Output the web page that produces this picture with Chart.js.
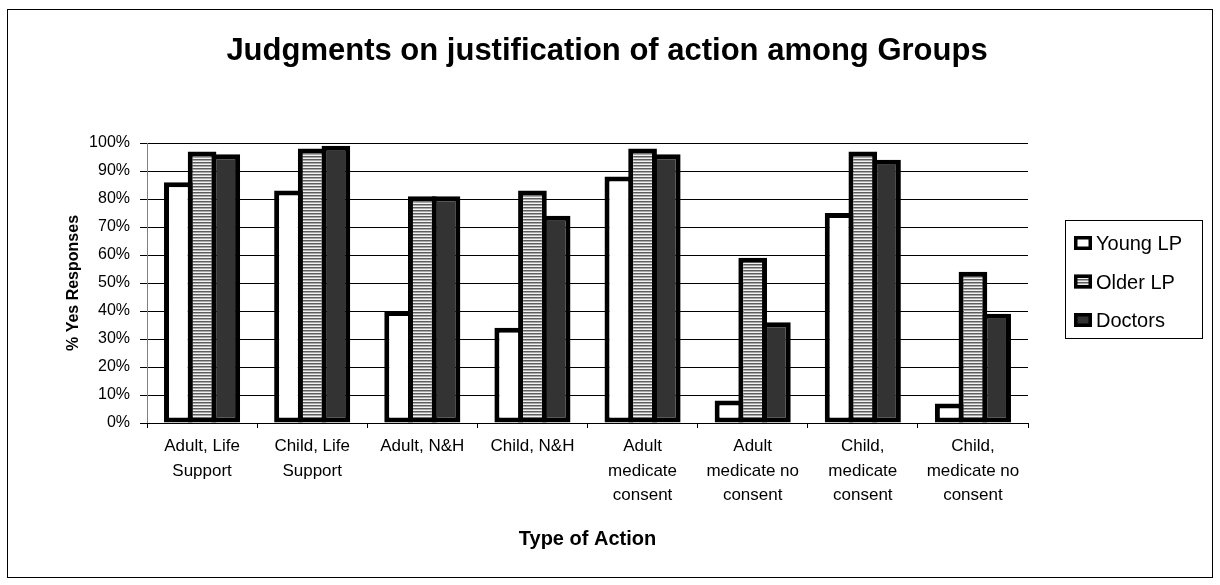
<!DOCTYPE html>
<html>
<head>
<meta charset="utf-8">
<script src="https://cdn.jsdelivr.net/npm/chart.js@4.4.1/dist/chart.umd.min.js"></script>
<style>
  body { margin: 0; background: #fff; }
  #wrap { width: 1220px; height: 585px; }
</style>
</head>
<body>
<div id="wrap"><canvas id="myChart" width="1220" height="585"></canvas></div>
<script>
const categories = [
  ['Adult, Life', 'Support'],
  ['Child, Life', 'Support'],
  'Adult, N&H',
  'Child, N&H',
  ['Adult', 'medicate', 'consent'],
  ['Adult', 'medicate no', 'consent'],
  ['Child,', 'medicate', 'consent'],
  ['Child,', 'medicate no', 'consent']
];
const seriesNames = ['Young LP', 'Older LP', 'Doctors'];
const youngLP = [86, 83, 40, 34, 88, 8, 75, 7];
const olderLP = [97, 98, 81, 83, 98, 59, 97, 54];
const doctors = [96, 99, 81, 74, 96, 36, 94, 39];

const FONT = "'Liberation Sans', Arial, sans-serif";

// horizontal stripes for the Older LP bars
function stripePattern() {
  const c = document.createElement('canvas');
  c.width = 4;
  c.height = 3;
  const g = c.getContext('2d');
  g.fillStyle = '#f2f2f2';
  g.fillRect(0, 0, 4, 3);
  g.fillStyle = '#5e5e5e';
  g.fillRect(0, 0, 4, 1);
  g.fillStyle = '#a8a8a8';
  g.fillRect(0, 1, 4, 1);
  return g.createPattern(c, 'repeat');
}
const stripes = stripePattern();
const fills = ['#ffffff', stripes, '#333333'];

const framePlugin = {
  id: 'frame',
  beforeDraw(chart) {
    const ctx = chart.ctx;
    ctx.save();
    ctx.fillStyle = '#fff';
    ctx.fillRect(0, 0, chart.width, chart.height);
    ctx.strokeStyle = '#000';
    ctx.lineWidth = 1;
    ctx.strokeRect(7.5, 9.5, 1205, 568);
    ctx.restore();
  },
  afterDraw(chart) {
    const ctx = chart.ctx;
    ctx.save();
    // title
    ctx.fillStyle = '#000';
    ctx.font = 'bold 31px ' + FONT;
    ctx.textAlign = 'center';
    ctx.textBaseline = 'alphabetic';
    ctx.fillText('Judgments on justification of action among Groups', 607, 60);

    // legend
    ctx.strokeStyle = '#000';
    ctx.lineWidth = 1;
    ctx.strokeRect(1065.5, 220.5, 137, 118);
    ctx.font = '20px ' + FONT;
    ctx.textAlign = 'left';
    chart.data.datasets.forEach((ds, i) => {
      const base = 250 + i * 38.5;
      const mx = 1074, my = base - 14;
      ctx.fillStyle = ds.backgroundColor;
      ctx.fillRect(mx, my, 18, 14);
      ctx.lineWidth = 3.5;
      ctx.strokeRect(mx + 1.75, my + 1.75, 14.5, 10.5);
      ctx.fillStyle = '#000';
      ctx.fillText(ds.label, 1096, base);
    });
    ctx.restore();
  }
};

const data = {
  labels: categories,
  datasets: [youngLP, olderLP, doctors].map((vals, i) => ({
    label: seriesNames[i],
    data: vals,
    backgroundColor: fills[i],
    borderColor: '#000',
    borderWidth: 5,
    borderSkipped: false,
    categoryPercentage: 0.6455,
    barPercentage: 1.211
  }))
};

const config = {
  type: 'bar',
  data: data,
  options: {
    responsive: false,
    animation: false,
    layout: { padding: { left: 0, right: 192, top: 143, bottom: 0 } },
    plugins: {
      legend: { display: false },
      title: { display: false },
      tooltip: { enabled: false }
    },
    scales: {
      y: {
        min: 0,
        max: 100,
        afterFit: (scale) => { scale.width = 147; },
        ticks: {
          stepSize: 10,
          padding: 10,
          color: '#000',
          font: { family: FONT, size: 16 },
          callback: (v) => v + '%'
        },
        grid: { color: '#000', lineWidth: 1, tickLength: 7 },
        border: { color: '#808080', width: 1 },
        title: {
          display: true,
          text: '% Yes Responses',
          color: '#000',
          font: { family: FONT, size: 16, weight: 'bold' },
          padding: { top: 64, bottom: 0 }
        }
      },
      x: {
        afterFit: (scale) => { scale.height = 162; },
        ticks: {
          padding: 6,
          color: '#000',
          maxRotation: 0,
          autoSkip: false,
          font: { family: FONT, size: 17, lineHeight: 1.45 }
        },
        grid: { display: true, drawOnChartArea: false, color: '#000', tickLength: 5, offset: true },
        border: { color: '#000', width: 1 },
        title: {
          display: true,
          text: 'Type of Action',
          color: '#000',
          font: { family: FONT, size: 20, weight: 'bold' },
          padding: { top: 0, bottom: 34 }
        }
      }
    }
  },
  plugins: [framePlugin]
};

const myChart = new Chart(document.getElementById('myChart'), config);
</script>
</body>
</html>
